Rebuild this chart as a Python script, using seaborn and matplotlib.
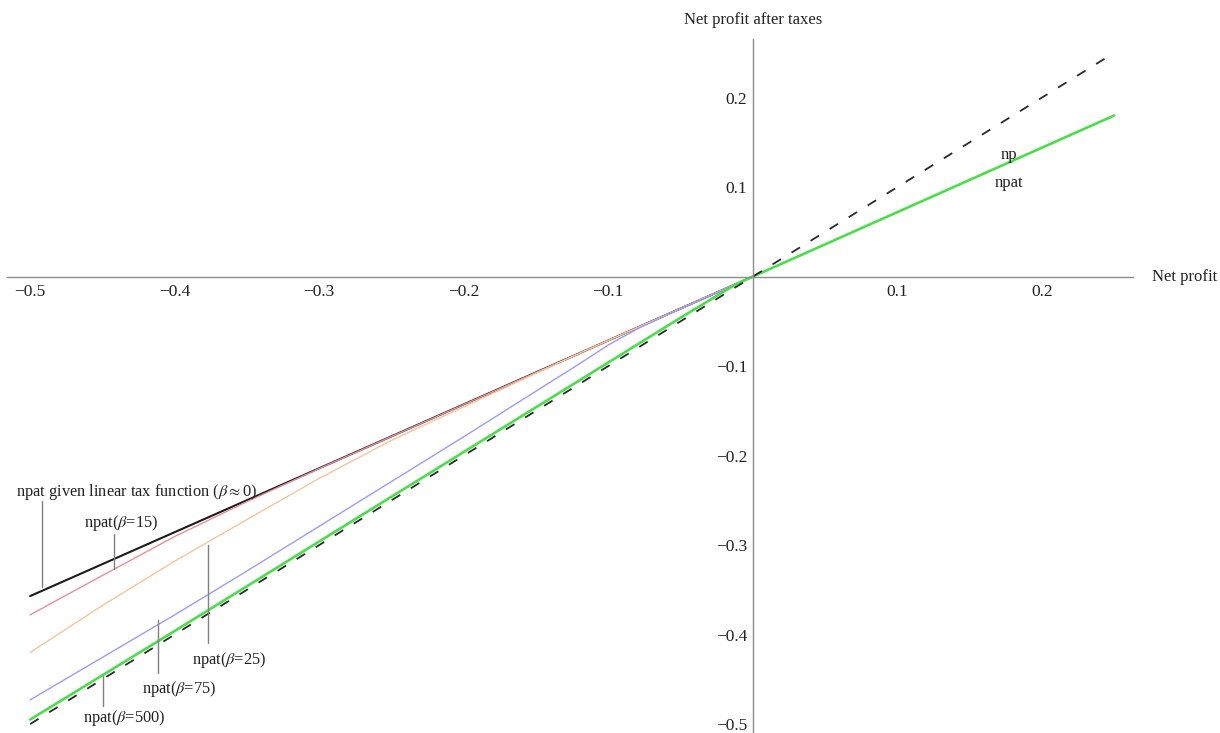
import numpy as np
import pandas as pd
import seaborn as sns
import matplotlib.pyplot as plt
from matplotlib.ticker import FixedLocator, FixedFormatter

# curves (net profit -> net profit after taxes)
np_x = [-0.5, 0.25]
np_y = [-0.5, 0.25]

lin_x = [-0.5, 0.0]
lin_y = [-0.357, 0.0]

b15_x = [-0.5, -0.45, -0.4, -0.35, -0.3, -0.27, 0.0]
b15_y = [-0.378, -0.334, -0.2905, -0.2515, -0.2145, -0.193, 0.0]

b25_x = [-0.5, -0.45, -0.4, -0.35, -0.3, -0.25, -0.2, -0.15, -0.12, 0.0]
b25_y = [-0.42, -0.3675, -0.318, -0.2715, -0.2255, -0.183, -0.1455, -0.108, -0.0857, 0.0]

b75_x = [-0.5, -0.45, -0.4, -0.35, -0.3, -0.25, -0.2, -0.15, -0.12, -0.1, -0.08, -0.06, -0.04, -0.02, 0.0]
b75_y = [-0.473, -0.4255, -0.378, -0.329, -0.279, -0.229, -0.179, -0.128, -0.0975, -0.0765,
         -0.0585, -0.0432, -0.0287, -0.0143, 0.0]

b500_x = [-0.5, -0.4, -0.3, -0.2, -0.1, -0.05, -0.03, -0.02, -0.01, 0.0, 0.25]
b500_y = [-0.495, -0.396, -0.296, -0.196, -0.096, -0.046, -0.0265, -0.0165, -0.0072, 0.0, 0.18]

x_ticks = [-0.5, -0.4, -0.3, -0.2, -0.1, 0.1, 0.2]
x_labels = ['\u22120.5', '\u22120.4', '\u22120.3', '\u22120.2', '\u22120.1', '0.1', '0.2']
y_ticks = [-0.5, -0.4, -0.3, -0.2, -0.1, 0.1, 0.2]
y_labels = ['\u22120.5', '\u22120.4', '\u22120.3', '\u22120.2', '\u22120.1', '0.1', '0.2']

# callout labels: text, text position, leader line (x, y0, y1)
notes = ['npat given linear tax function ($\\beta\\approx$0)', 'npat($\\beta$=15)', 'npat($\\beta$=25)',
         'npat($\\beta$=75)', 'npat($\\beta$=500)']
note_x = [-0.5097, -0.437, -0.362, -0.397, -0.435]
note_y = [-0.241, -0.275, -0.428, -0.461, -0.493]
lead_x = [-0.4917, -0.442, -0.3767, -0.4114, -0.4495]
lead_y0 = [-0.251, -0.288, -0.2994, -0.384, -0.446]
lead_y1 = [-0.347, -0.327, -0.409, -0.4425, -0.480]

sns.set_theme(style='white')
plt.rcParams['font.family'] = ['Liberation Serif', 'DejaVu Serif']
plt.rcParams['mathtext.fontset'] = 'stix'

fig = plt.figure(figsize=(12.2, 7.33), dpi=100)
ax = fig.add_axes([7 / 1220, 0, 1126 / 1220, 693.6 / 733])

curves = [
    (lin_x, lin_y, '#1c1c1c', 1.5),
    (b15_x, b15_y, '#e5909a', 1.0),
    (b25_x, b25_y, '#f8c49c', 1.0),
    (b75_x, b75_y, '#9c9cf0', 1.0),
    (b500_x, b500_y, '#4edc4e', 1.9),
]
for xs, ys, col, lw in curves:
    sns.lineplot(x=xs, y=ys, color=col, linewidth=lw, estimator=None, ax=ax)

sns.lineplot(x=np_x, y=np_y, color='#2a2a2a', linewidth=1.3, estimator=None,
             linestyle=(0, (5.5, 6.9)), ax=ax)

txt = '#222222'
for i in range(len(notes)):
    ax.plot([lead_x[i], lead_x[i]], [lead_y0[i], lead_y1[i]], color='#808080', lw=1.0)
    ha = 'left' if i == 0 else 'center'
    ax.text(note_x[i], note_y[i], notes[i], ha=ha, va='center', fontsize=11.8, color=txt)

ax.text(0.177, 0.136, 'np', ha='center', va='center', fontsize=12, color=txt)
ax.text(0.177, 0.105, 'npat', ha='center', va='center', fontsize=12, color=txt)
ax.text(0.0, 0.287, 'Net profit after taxes', ha='center', va='center', fontsize=12,
        color=txt, clip_on=False)
ax.text(0.2758, 0.0, 'Net profit', ha='left', va='center', fontsize=12,
        color=txt, clip_on=False)

ax.set_xlim(-0.516, 0.263)
ax.set_ylim(-0.51, 0.265)
ax.set_xlabel('')
ax.set_ylabel('')

for side in ['top', 'right']:
    ax.spines[side].set_visible(False)
ax.spines['left'].set_position(('data', 0))
ax.spines['bottom'].set_position(('data', 0))
for side in ['left', 'bottom']:
    ax.spines[side].set_color('#8c8c8c')
    ax.spines[side].set_linewidth(1.0)

ax.xaxis.set_major_locator(FixedLocator(x_ticks))
ax.xaxis.set_major_formatter(FixedFormatter(x_labels))
ax.yaxis.set_major_locator(FixedLocator(y_ticks))
ax.yaxis.set_major_formatter(FixedFormatter(y_labels))
ax.xaxis.set_minor_locator(FixedLocator(np.round(np.arange(-0.5, 0.261, 0.02), 2)))
ax.yaxis.set_minor_locator(FixedLocator(np.round(np.arange(-0.5, 0.261, 0.02), 2)))
ax.tick_params(which='both', direction='in', color='#8c8c8c', labelsize=12.5, labelcolor=txt)
ax.tick_params(which='major', length=4, width=0.8)
ax.tick_params(which='minor', length=2.5, width=0.6)
ax.tick_params(axis='x', which='major', pad=5)
ax.tick_params(axis='y', which='major', pad=4)
ax.patch.set_alpha(0)

fig.savefig('out.png', dpi=100)
